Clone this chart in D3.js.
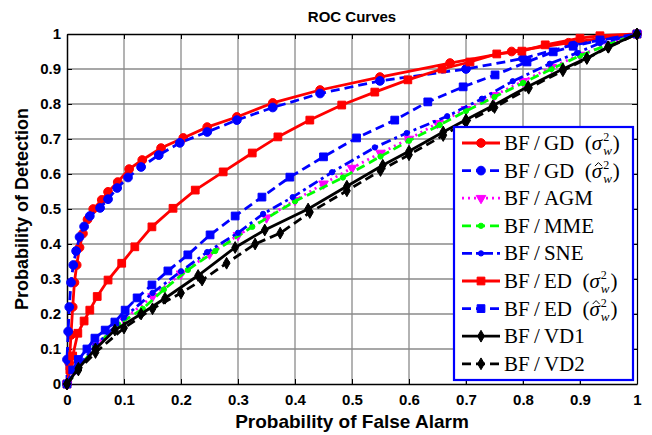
<!DOCTYPE html>
<html lang="en">
<head>
  <meta charset="utf-8" />
  <title>ROC Curves</title>
  <script src="https://cdn.jsdelivr.net/npm/d3@7"></script>
  <style>
body{ margin:0; background:#fff; }
svg{ display:block; }
  </style>
</head>
<body>
  <svg id="chart"></svg>
  <script>
  // tick labels
  const tickValues = [0, 0.1, 0.2, 0.3, 0.4, 0.5, 0.6, 0.7, 0.8, 0.9, 1];

  // [Pfa, Pd] pairs
  const gdTrue = [[0,0],[0.004,0.06],[0.007,0.14],[0.01,0.22],[0.013,0.29],[0.017,0.34],[0.022,0.39],[0.028,0.43],[0.036,0.47],[0.046,0.5],[0.061,0.526],[0.072,0.549],[0.089,0.577],[0.109,0.614],[0.132,0.64],[0.165,0.674],[0.204,0.703],[0.246,0.734],[0.298,0.763],[0.361,0.803],[0.444,0.84],[0.549,0.877],[0.672,0.917],[0.78,0.95],[0.88,0.975],[1,1]];
  const gdEst  = [[0,0],[0,0.07],[0.002,0.15],[0.004,0.22],[0.007,0.29],[0.011,0.34],[0.016,0.38],[0.022,0.42],[0.03,0.45],[0.04,0.48],[0.058,0.503],[0.072,0.528],[0.088,0.56],[0.107,0.59],[0.13,0.62],[0.161,0.654],[0.198,0.689],[0.246,0.72],[0.298,0.754],[0.361,0.79],[0.444,0.83],[0.549,0.866],[0.7,0.9],[0.8,0.93],[0.888,0.969],[1,1]];
  const agm    = [[0,0],[0.05,0.11],[0.1,0.185],[0.15,0.25],[0.2,0.315],[0.25,0.372],[0.3,0.425],[0.35,0.475],[0.4,0.525],[0.45,0.572],[0.5,0.617],[0.55,0.66],[0.6,0.7],[0.65,0.745],[0.7,0.785],[0.75,0.825],[0.8,0.865],[0.85,0.905],[0.9,0.94],[0.95,0.97],[1,1]];
  const mme    = [[0,0],[0.049,0.106],[0.09,0.17],[0.133,0.215],[0.17,0.27],[0.212,0.326],[0.26,0.38],[0.325,0.449],[0.4,0.522],[0.484,0.59],[0.55,0.65],[0.6,0.695],[0.654,0.74],[0.7,0.78],[0.75,0.82],[0.8,0.86],[0.85,0.9],[0.9,0.938],[0.95,0.97],[1,1]];
  const sne    = [[0,0],[0.02,0.05],[0.05,0.11],[0.1,0.19],[0.15,0.26],[0.2,0.322],[0.246,0.377],[0.3,0.432],[0.344,0.486],[0.396,0.534],[0.465,0.605],[0.54,0.676],[0.596,0.717],[0.667,0.765],[0.728,0.815],[0.782,0.865],[0.847,0.915],[0.895,0.946],[0.935,0.974],[1,1]];
  const edTrue = [[0,0],[0.005,0.04],[0.01,0.08],[0.019,0.145],[0.03,0.18],[0.04,0.211],[0.053,0.25],[0.072,0.297],[0.096,0.345],[0.119,0.392],[0.149,0.449],[0.186,0.502],[0.225,0.554],[0.274,0.606],[0.325,0.66],[0.37,0.706],[0.426,0.754],[0.482,0.797],[0.54,0.834],[0.598,0.869],[0.658,0.9],[0.707,0.92],[0.754,0.943],[0.798,0.951],[0.839,0.969],[0.9,0.988],[0.935,0.995],[1,1]];
  const edEst  = [[0,0],[0.01,0.04],[0.02,0.07],[0.035,0.1],[0.049,0.131],[0.067,0.154],[0.084,0.177],[0.102,0.211],[0.123,0.246],[0.149,0.283],[0.177,0.323],[0.212,0.369],[0.251,0.426],[0.295,0.48],[0.342,0.534],[0.391,0.591],[0.45,0.649],[0.508,0.703],[0.575,0.754],[0.633,0.806],[0.695,0.849],[0.751,0.883],[0.807,0.92],[0.853,0.949],[0.888,0.965],[0.935,0.983],[1,1]];
  const vd1    = [[0,0],[0.02,0.045],[0.05,0.1],[0.084,0.154],[0.13,0.2],[0.172,0.245],[0.23,0.31],[0.295,0.39],[0.347,0.44],[0.423,0.5],[0.491,0.565],[0.554,0.625],[0.6,0.665],[0.66,0.72],[0.7,0.755],[0.747,0.795],[0.809,0.85],[0.87,0.9],[0.912,0.931],[0.949,0.963],[1,1]];
  const vd2    = [[0,0],[0.02,0.04],[0.05,0.09],[0.1,0.16],[0.15,0.215],[0.2,0.26],[0.237,0.297],[0.28,0.345],[0.33,0.4],[0.374,0.431],[0.426,0.49],[0.491,0.552],[0.55,0.61],[0.6,0.655],[0.66,0.71],[0.7,0.748],[0.75,0.79],[0.81,0.845],[0.87,0.895],[0.912,0.93],[0.95,0.962],[1,1]];

  const series = [
    {name: 'BF/GD',  math: true,            data: gdTrue, color: '#ff0000', dash: null,       symbol: d3.symbolCircle,   size: 60},
    {name: 'BF/GD',  math: true, hat: true, data: gdEst,  color: '#0000ff', dash: '9,5',      symbol: d3.symbolCircle,   size: 60},
    {name: 'BF/AGM',                        data: agm,    color: '#ff00ff', dash: '2,4',      symbol: d3.symbolTriangle, size: 40, flip: true},
    {name: 'BF/MME',                        data: mme,    color: '#00ff00', dash: '9,5',      symbol: d3.symbolCircle,   size: 22},
    {name: 'BF/SNE',                        data: sne,    color: '#0000ff', dash: '10,4,3,4', symbol: d3.symbolCircle,   size: 22},
    {name: 'BF/ED',  math: true,            data: edTrue, color: '#ff0000', dash: null,       symbol: d3.symbolSquare,   size: 60},
    {name: 'BF/ED',  math: true, hat: true, data: edEst,  color: '#0000ff', dash: '9,5',      symbol: d3.symbolSquare,   size: 60},
    {name: 'BF/VD1',                        data: vd1,    color: '#000000', dash: null,       symbol: d3.symbolDiamond,  size: 40},
    {name: 'BF/VD2',                        data: vd2,    color: '#000000', dash: '9,5',      symbol: d3.symbolDiamond,  size: 40}
  ];

  const W = 652, H = 435;
  const margin = {top: 34, right: 15, bottom: 51, left: 67};
  const width = W - margin.left - margin.right,
        height = H - margin.top - margin.bottom;

  const svg = d3.select('#chart').attr('width', W).attr('height', H);
  const g = svg.append('g').attr('transform', `translate(${margin.left},${margin.top})`);

  const x = d3.scaleLinear().domain([0, 1]).range([0, width]);
  const y = d3.scaleLinear().domain([0, 1]).range([height, 0]);

  // grid
  g.append('g').selectAll('line')
    .data(tickValues.slice(1, -1))
    .enter().append('line')
      .attr('x1', d => x(d)).attr('x2', d => x(d))
      .attr('y1', 0).attr('y2', height)
      .attr('stroke', '#8a8a8a').attr('stroke-width', 1.3);
  g.append('g').selectAll('line')
    .data(tickValues.slice(1, -1))
    .enter().append('line')
      .attr('y1', d => y(d)).attr('y2', d => y(d))
      .attr('x1', 0).attr('x2', width)
      .attr('stroke', '#8a8a8a').attr('stroke-width', 1.3);

  // axes with inward ticks
  const tickFont = g => g.selectAll('text')
      .attr('font-family', 'Liberation Sans, Arial, sans-serif')
      .attr('font-weight', 'bold').attr('font-size', 15).attr('fill', '#000');

  g.append('g').attr('transform', `translate(0,${height})`)
    .call(d3.axisBottom(x).tickValues(tickValues).tickFormat(d3.format('~g')).tickSizeInner(-5).tickSizeOuter(0).tickPadding(10))
    .call(tickFont)
    .call(a => a.select('.domain').attr('stroke-width', 1.5));
  g.append('g')
    .call(d3.axisLeft(y).tickValues(tickValues).tickFormat(d3.format('~g')).tickSizeInner(-5).tickSizeOuter(0).tickPadding(6))
    .call(tickFont)
    .call(a => a.select('.domain').attr('stroke-width', 1.5));
  g.append('g')
    .call(d3.axisTop(x).tickValues(tickValues).tickFormat('').tickSizeInner(-5).tickSizeOuter(0))
    .call(a => a.select('.domain').attr('stroke-width', 1.5));
  g.append('g').attr('transform', `translate(${width},0)`)
    .call(d3.axisRight(y).tickValues(tickValues).tickFormat('').tickSizeInner(-5).tickSizeOuter(0))
    .call(a => a.select('.domain').attr('stroke-width', 1.2));

  // curves
  const line = d3.line().x(d => x(d[0])).y(d => y(d[1]));

  series.forEach(s => {
    const sg = g.append('g');
    sg.append('path')
      .datum(s.data)
      .attr('d', line)
      .attr('fill', 'none')
      .attr('stroke', s.color)
      .attr('stroke-width', 2.8)
      .attr('stroke-dasharray', s.dash);
    sg.selectAll('path.mk')
      .data(s.data)
      .enter().append('path')
        .attr('class', 'mk')
        .attr('d', d3.symbol().type(s.symbol).size(s.size))
        .attr('transform', d => `translate(${x(d[0])},${y(d[1])})${s.flip ? ' rotate(180)' : ''}`)
        .attr('fill', s.color)
        .attr('stroke', s.color)
        .attr('stroke-width', 1);
  });

  // legend
  const lg = svg.append('g').attr('transform', 'translate(454,127)');
  lg.append('rect')
    .attr('width', 179).attr('height', 253)
    .attr('fill', '#fff')
    .attr('stroke', '#0000ff').attr('stroke-width', 2.2);

  const rowH = 27.6;
  series.forEach((s, i) => {
    const ry = 16 + i * rowH;
    lg.append('line')
      .attr('x1', 8).attr('x2', 46).attr('y1', ry).attr('y2', ry)
      .attr('stroke', s.color).attr('stroke-width', 2.8)
      .attr('stroke-dasharray', s.dash);
    lg.append('path')
      .attr('d', d3.symbol().type(s.symbol).size(s.size))
      .attr('transform', `translate(27,${ry})${s.flip ? ' rotate(180)' : ''}`)
      .attr('fill', s.color).attr('stroke', s.color);

    const t = lg.append('text')
      .attr('x', 50).attr('y', ry + 7)
      .attr('font-family', 'Liberation Serif, DejaVu Serif, serif')
      .attr('font-size', 21)
      .attr('fill', '#000');
    t.append('tspan').text(s.name.replace('/', '\u2009/\u2009'));
    if(s.math){
      t.append('tspan').text('\u2002(');
      t.append('tspan').attr('font-style', 'italic').text('σ');
      t.append('tspan').attr('font-size', 12).attr('dy', -9).attr('dx', 1).text('2');
      t.append('tspan').attr('font-size', 13).attr('font-style', 'italic').attr('dy', 14).attr('dx', -6).text('w');
      t.append('tspan').attr('dy', -5).attr('dx', 1).text(')');
      if(s.hat){
        // circumflex accent over sigma, drawn as a small path
        const n = t.node();
        const idx = n.textContent.indexOf('σ');
        const p = n.getStartPositionOfChar(idx);
        const cx = p.x + n.getSubStringLength(idx, 1) / 2 + 1.5;
        const cy = ry - 7;
        lg.append('path')
          .attr('d', `M${cx - 3.5},${cy + 2.5}L${cx},${cy - 1}L${cx + 3.5},${cy + 2.5}`)
          .attr('fill', 'none').attr('stroke', '#000').attr('stroke-width', 1);
      }
    }
  });

  // titles
  svg.append('text')
    .attr('x', margin.left + width / 2).attr('y', 22)
    .attr('text-anchor', 'middle')
    .attr('font-family', 'Liberation Sans, Arial, sans-serif')
    .attr('font-weight', 'bold').attr('font-size', 15)
    .text('ROC Curves');

  svg.append('text')
    .attr('x', margin.left + width / 2).attr('y', 428)
    .attr('text-anchor', 'middle')
    .attr('font-family', 'Liberation Sans, Arial, sans-serif')
    .attr('font-weight', 'bold').attr('font-size', 19)
    .text('Probability of False Alarm');

  svg.append('text')
    .attr('transform', `translate(28,${margin.top + height / 2}) rotate(-90)`)
    .attr('text-anchor', 'middle')
    .attr('font-family', 'Liberation Sans, Arial, sans-serif')
    .attr('font-weight', 'bold').attr('font-size', 18)
    .text('Probability of Detection');
  </script>
</body>
</html>
